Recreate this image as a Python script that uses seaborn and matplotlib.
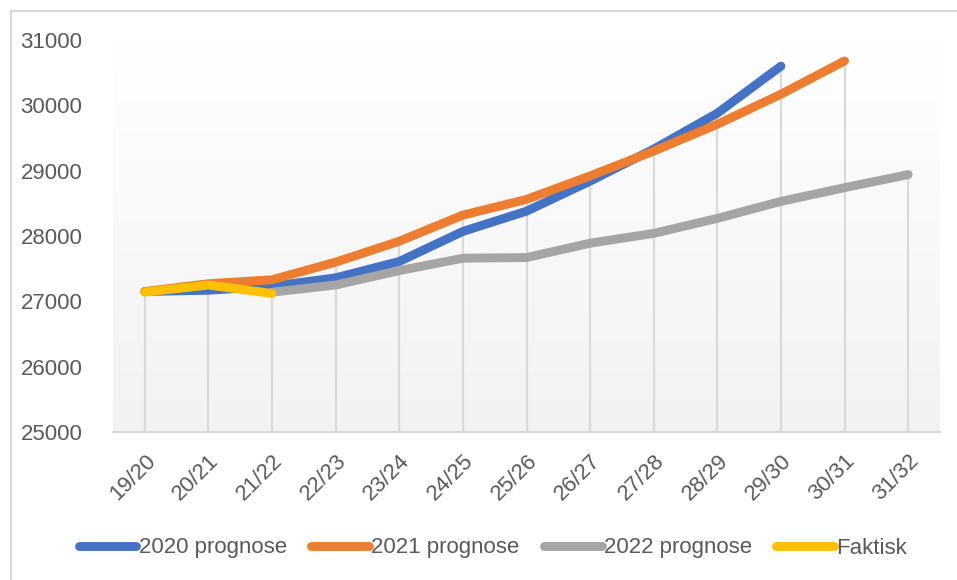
import numpy as np
import pandas as pd
import seaborn as sns
import matplotlib.pyplot as plt
from matplotlib.lines import Line2D

# school years on the x axis
years = ['19/20', '20/21', '21/22', '22/23', '23/24', '24/25', '25/26',
         '26/27', '27/28', '28/29', '29/30', '30/31', '31/32']

# values (None = no value that year)
prog_2020 = [27150, 27170, 27230, 27360, 27610, 28070, 28380, 28840, 29330, 29880, 30600, None, None]
prog_2021 = [27150, 27270, 27330, 27600, 27920, 28320, 28560, 28920, 29300, 29710, 30170, 30680, None]
prog_2022 = [None, None, 27140, 27250, 27470, 27660, 27670, 27890, 28040, 28270, 28530, 28740, 28940]
faktisk = [27140, 27250, 27120, None, None, None, None, None, None, None, None, None, None]

series_names = ['2020 prognose', '2021 prognose', '2022 prognose', 'Faktisk']
colors = ['#4472C4', '#ED7D31', '#A5A5A5', '#FFC000']

rows = []
for name, vals in zip(series_names, [prog_2020, prog_2021, prog_2022, faktisk]):
    for i, v in enumerate(vals):
        if v is not None:
            rows.append({'pos': i, 'year': years[i], 'value': v, 'series': name})
df = pd.DataFrame(rows)

sns.set_style('white')
plt.rcParams['font.family'] = ['Liberation Sans', 'DejaVu Sans']

fig = plt.figure(figsize=(9.57, 5.80), dpi=100)
ax = fig.add_axes([113 / 957, 1 - 432 / 580, 827 / 957, 392 / 580])

# plot area gradient, white at top to light grey at the bottom
grad = np.linspace(0.0, 1.0, 256).reshape(-1, 1)
top = np.array([1.0, 1.0, 1.0])
bot = np.array([0xF2, 0xF2, 0xF2]) / 255
img = top * (1 - grad[..., None]) + bot * grad[..., None]
ax.imshow(img, extent=[0, 1, 0, 1], transform=ax.transAxes, aspect='auto', zorder=0)

# drop lines from highest value down to the axis
tops = df.groupby('pos')['value'].max()
ax.vlines(tops.index, 25000, tops.values, color='#D9D9D9', lw=1.6, zorder=1)

sns.lineplot(data=df, x='pos', y='value', hue='series', hue_order=series_names,
             palette=colors, sort=False, linewidth=6.4, solid_capstyle='round',
             legend=False, ax=ax, zorder=3)

ax.set_xlim(-0.5, len(years) - 0.5)
ax.set_ylim(25000, 31000)
ax.set_xticks(range(len(years)))
ax.set_xticklabels(years, rotation=45, ha='right', rotation_mode='anchor')
ax.set_yticks(range(25000, 31001, 1000))
ax.tick_params(axis='both', length=0, labelsize=16, labelcolor='#595959')
ax.tick_params(axis='y', pad=22)
ax.tick_params(axis='x', pad=13)
ax.set_xlabel('')
ax.set_ylabel('')
for side in ['top', 'right', 'left']:
    ax.spines[side].set_visible(False)
ax.spines['bottom'].set_color('#D9D9D9')
ax.spines['bottom'].set_linewidth(1.6)
ax.spines['bottom'].set_zorder(2)

handles = [Line2D([0], [0], color=c, lw=6.4, solid_capstyle='round') for c in colors]
fig.legend(handles, series_names, loc='center', bbox_to_anchor=(0.515, 1 - 548 / 580),
           ncol=4, frameon=False, fontsize=16, labelcolor='#595959',
           handlelength=2.6, handletextpad=0.1, columnspacing=1.1)

# chart border (left and top edges visible in the crop)
fig.add_artist(Line2D([10.5 / 957, 10.5 / 957], [0, 1 - 11 / 580], color='#D9D9D9', lw=1.5))
fig.add_artist(Line2D([10.5 / 957, 1], [1 - 11 / 580, 1 - 11 / 580], color='#D9D9D9', lw=1.5))

fig.savefig('out.png', dpi=100)
